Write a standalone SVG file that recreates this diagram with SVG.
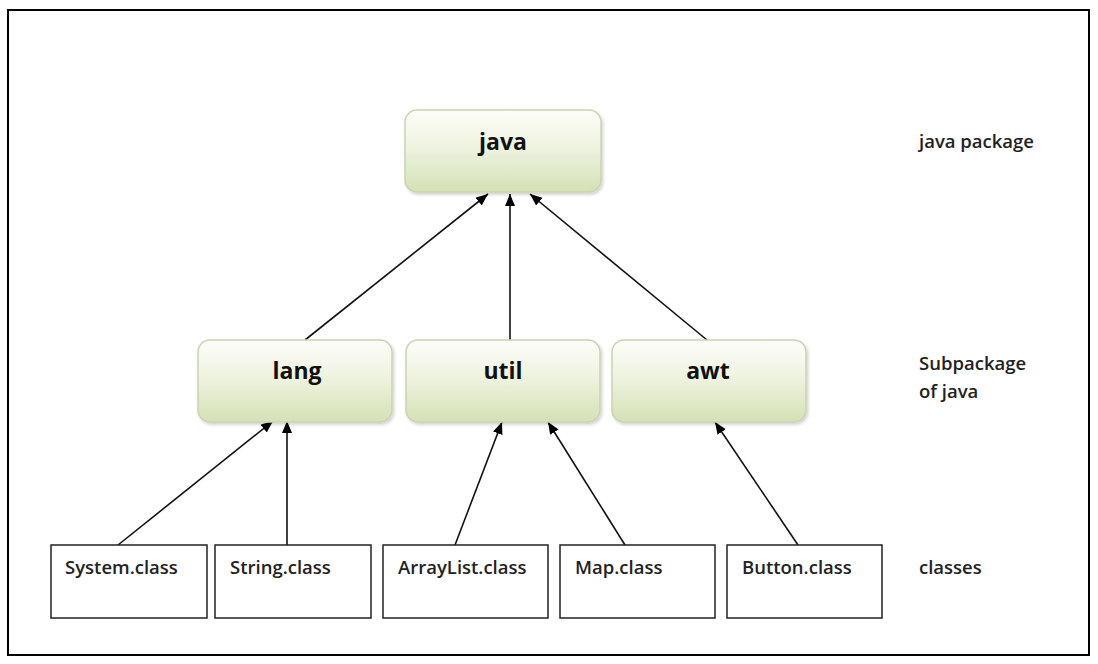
<svg xmlns="http://www.w3.org/2000/svg" width="1098" height="664" viewBox="0 0 1098 664">
  <defs>
    <linearGradient id="pkg" x1="0" y1="0" x2="0" y2="1">
      <stop offset="0" stop-color="#fdfdf8"/>
      <stop offset="0.45" stop-color="#eef3e0"/>
      <stop offset="1" stop-color="#d4e1b5"/>
    </linearGradient>
    <filter id="sh" x="-10%" y="-10%" width="125%" height="130%">
      <feDropShadow dx="1.5" dy="2" stdDeviation="1.5" flood-color="#000" flood-opacity="0.18"/>
    </filter>
    <marker id="arr" markerUnits="userSpaceOnUse" markerWidth="14" markerHeight="12" refX="12" refY="5" orient="auto">
      <path d="M0,0 L12,5 L0,10 z" fill="#000"/>
    </marker>
    <style>
      .frame{fill:#fff;stroke:#000;stroke-width:2}
      .pkg{fill:url(#pkg);stroke:#c9d3b3;stroke-width:1.5;filter:url(#sh)}
      .pkgt{font-family:"Open Sans","Noto Sans",sans-serif;font-weight:700;font-size:23px;fill:#111;text-anchor:middle}
      .cls{fill:#fff;stroke:#222;stroke-width:1.5}
      .clst{font-family:"Open Sans","Noto Sans",sans-serif;font-weight:600;font-size:18.5px;fill:#222}
      .lbl{font-family:"Open Sans","Noto Sans",sans-serif;font-weight:600;font-size:18.5px;fill:#222}
      .con line{stroke:#111;stroke-width:1.6;marker-end:url(#arr)}
    </style>
  </defs>

  <rect class="frame" x="8" y="10" width="1081" height="645"/>

  <g id="connectors" class="con">
    <line x1="305" y1="340" x2="488" y2="194"/>
    <line x1="510" y1="340" x2="510" y2="194"/>
    <line x1="707" y1="340" x2="530" y2="194"/>
    <line x1="118" y1="545" x2="273" y2="421"/>
    <line x1="287" y1="545" x2="287" y2="421"/>
    <line x1="455" y1="545" x2="502" y2="422"/>
    <line x1="625" y1="545" x2="548" y2="422"/>
    <line x1="798" y1="545" x2="715" y2="422"/>
  </g>

  <g id="java">
    <rect class="pkg" x="405" y="110" width="196" height="82" rx="12"/>
    <text class="pkgt" x="503" y="150">java</text>
  </g>
  <g id="lang">
    <rect class="pkg" x="198" y="340" width="194" height="82" rx="12"/>
    <text class="pkgt" x="297" y="379">lang</text>
  </g>
  <g id="util">
    <rect class="pkg" x="406" y="340" width="194" height="82" rx="12"/>
    <text class="pkgt" x="503" y="379">util</text>
  </g>
  <g id="awt">
    <rect class="pkg" x="612" y="340" width="194" height="82" rx="12"/>
    <text class="pkgt" x="708" y="379">awt</text>
  </g>

  <g id="system">
    <rect class="cls" x="51" y="545" width="156" height="73"/>
    <text class="clst" x="65" y="574">System.class</text>
  </g>
  <g id="string">
    <rect class="cls" x="215" y="545" width="156" height="73"/>
    <text class="clst" x="230" y="574">String.class</text>
  </g>
  <g id="arraylist">
    <rect class="cls" x="383" y="545" width="165" height="73"/>
    <text class="clst" x="398" y="574">ArrayList.class</text>
  </g>
  <g id="map">
    <rect class="cls" x="560" y="545" width="155" height="73"/>
    <text class="clst" x="575" y="574">Map.class</text>
  </g>
  <g id="button">
    <rect class="cls" x="727" y="545" width="155" height="73"/>
    <text class="clst" x="742" y="574">Button.class</text>
  </g>

  <g id="labels">
    <text class="lbl" x="919" y="148">java package</text>
    <text class="lbl" x="919" y="370">Subpackage</text>
    <text class="lbl" x="919" y="398">of  java</text>
    <text class="lbl" x="919" y="574">classes</text>
  </g>
</svg>
